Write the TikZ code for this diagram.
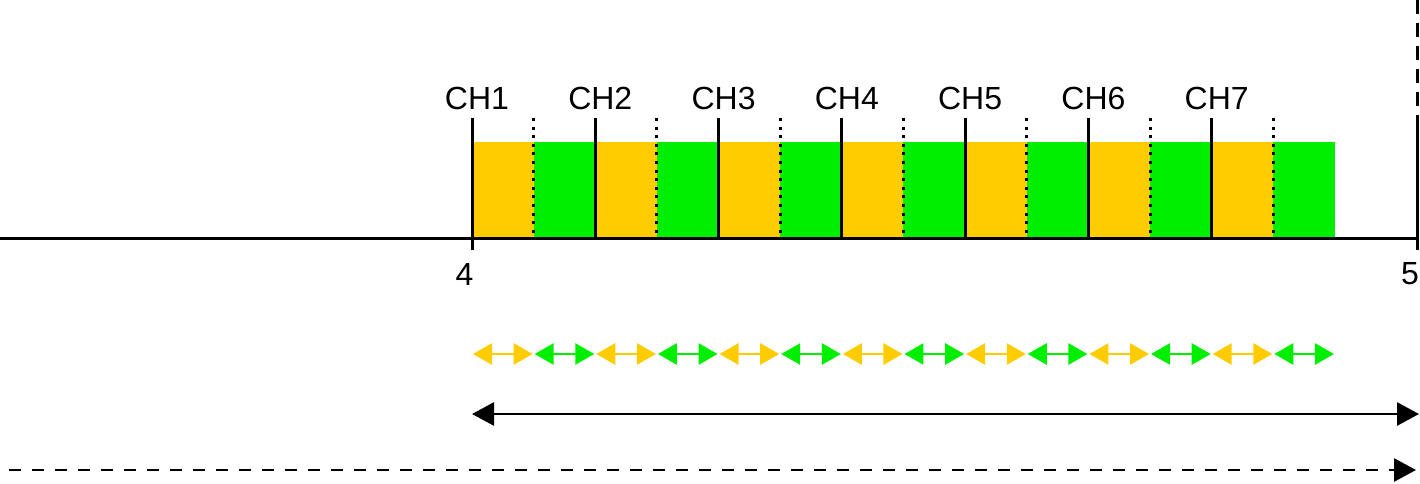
\documentclass[tikz,border=0pt]{standalone}
\usepackage{fontspec}
\setmainfont{Liberation Sans}
\usetikzlibrary{arrows.meta}
\definecolor{orng}{HTML}{FFCC00}
\definecolor{grn}{HTML}{00EE00}
\begin{document}
\begin{tikzpicture}[x=1pt,y=-1pt,
  lbl/.style={font=\fontsize{32}{32}\selectfont, inner sep=0pt},
  chline/.style={line width=3pt},
  dotline/.style={line width=3pt, dash pattern=on 3pt off 5.6pt},
  smallarr/.style={line width=2.8pt, {Triangle[length=19pt,width=21pt]}-{Triangle[length=19pt,width=21pt]}, shorten <=1pt, shorten >=1pt},
  bigarr/.style={line width=2.8pt, black, {Triangle[length=22pt,width=23pt]}-{Triangle[length=22pt,width=23pt]}},
]
\useasboundingbox (0,0) rectangle (1420,484);
% bars
\foreach \i in {0,...,13}{
  \pgfmathsetmacro{\xa}{472+\i*61.64}
  \pgfmathsetmacro{\xb}{472+(\i+1)*61.64}
  \pgfmathparse{mod(\i,2)==0 ? "orng" : "grn"}
  \edef\col{\pgfmathresult}
  \fill[\col] (\xa,142) rectangle (\xb,238);
  \draw[smallarr,\col] (\xa,354) -- (\xb,354);
}
% axis
\coordinate (a0) at (0,238);
\coordinate (a1) at (1419,238);
\draw[line width=3pt] (a0) -- (a1);
% channel lines
\foreach \k in {1,...,7}{
  \pgfmathsetmacro{\xc}{472+(\k-1)*2*61.64}
  \coordinate (t\k) at (\xc,118);
  \coordinate (b\k) at (\xc,238);
  \draw[chline] (t\k) -- (b\k);
  \node[lbl, anchor=base] (ch\k) at (\xc+5,110) {CH\k};
}
\foreach \k in {1,...,7}{
  \pgfmathsetmacro{\xd}{472+(2*\k-1)*61.64}
  \coordinate (dt\k) at (\xd,118);
  \coordinate (db\k) at (\xd,238);
  \draw[dotline] (dt\k) -- (db\k);
}
% tick 4 extension
\coordinate (t4a) at (472,238);
\coordinate (t4b) at (472,250);
\draw[chline] (t4a) -- (t4b);
% right marker
\coordinate (r0) at (1417,0);
\coordinate (r1) at (1417,118);
\coordinate (r2) at (1417,250);
\draw[line width=3pt, dash pattern=on 14pt off 9pt] (r0) -- (r1);
\draw[chline] (r1) -- (r2);
% numbers
\node[lbl, anchor=base] (n4) at (464.5,285) {4};
\node[lbl, anchor=base] (n5) at (1410,284) {5};
% big arrow
\coordinate (ba) at (472,414);
\coordinate (bb) at (1419,414);
\draw[bigarr] (ba) -- (bb);
% dashed arrow
\coordinate (da) at (9,470);
\coordinate (db) at (1416,470);
\draw[line width=2.8pt, dash pattern=on 12pt off 11pt, -{Triangle[length=22pt,width=23pt]}] (da) -- (db);
\end{tikzpicture}
\end{document}
